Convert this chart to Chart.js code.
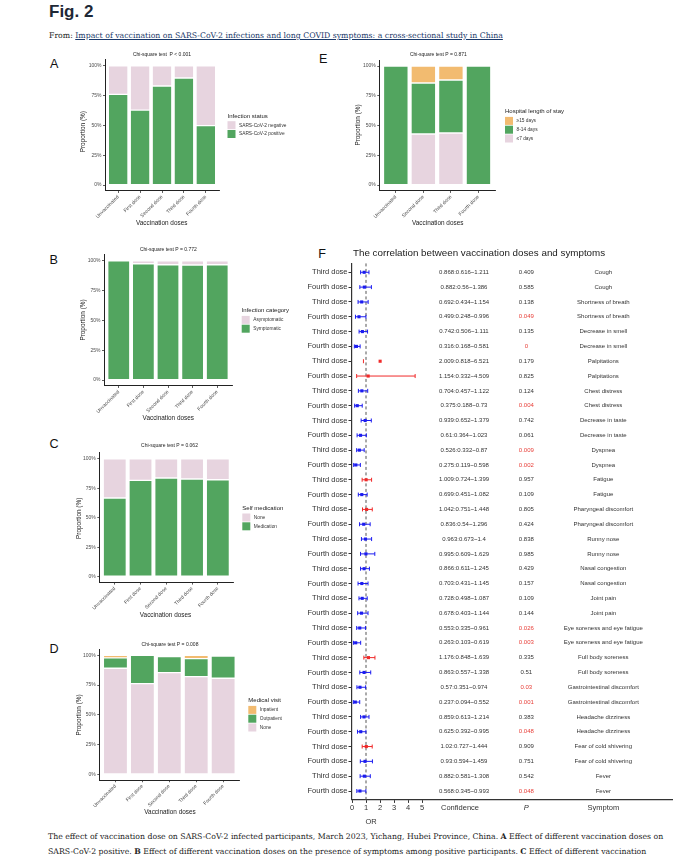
<!DOCTYPE html>
<html><head><meta charset="utf-8">
<script src="https://cdn.jsdelivr.net/npm/chart.js@4.4.1/dist/chart.umd.min.js"></script>
<style>
html,body{margin:0;padding:0;background:#fff;width:688px;height:860px;overflow:hidden;}
canvas{position:absolute;left:0;top:0;}
.t{position:absolute;white-space:nowrap;}
#fig{left:49px;top:2.8px;font:bold 17px/17px "Liberation Sans",Arial,sans-serif;color:#1e2836;}
.serif{font-family:"DejaVu Serif",serif;font-size:7.6px;line-height:10px;color:#222;}
#from{left:49px;top:31px;}
#from a{color:#1b3a6b;text-decoration:underline;}
.cap{left:48px;}
#cap1{top:831.5px;} #cap2{top:846.5px;}
.lab{font:12.6px/12.6px "Liberation Sans",Arial,sans-serif;color:#111;}
</style></head>
<body>
<div id="fig" class="t">Fig. 2</div>
<div id="from" class="t serif">From: <a>Impact of vaccination on SARS-CoV-2 infections and long COVID symptoms: a cross-sectional study in China</a></div>
<div class="t lab" style="left:50px;top:57.9px">A</div>
<div class="t lab" style="left:49.5px;top:253.6px">B</div>
<div class="t lab" style="left:49.5px;top:437.9px">C</div>
<div class="t lab" style="left:49.5px;top:642.6px">D</div>
<div class="t lab" style="left:319px;top:52.9px">E</div>
<div class="t lab" style="left:318.3px;top:247.6px">F</div>
<div id="cap1" class="t serif cap">The effect of vaccination dose on SARS-CoV-2 infected participants, March 2023, Yichang, Hubei Province, China. <b>A</b> Effect of different vaccination doses on</div>
<div id="cap2" class="t serif cap">SARS-CoV-2 positive. <b>B</b> Effect of different vaccination doses on the presence of symptoms among positive participants. <b>C</b> Effect of different vaccination</div>
<canvas id="cA" width="688" height="860"></canvas>
<canvas id="cB" width="688" height="860"></canvas>
<canvas id="cC" width="688" height="860"></canvas>
<canvas id="cD" width="688" height="860"></canvas>
<canvas id="cE" width="688" height="860"></canvas>
<canvas id="cF" width="688" height="860"></canvas>
<script>
// ---------------- DATA ----------------
const doses5 = ['Unvaccinated','First dose','Second dose','Third dose','Fourth dose'];
const dosesE = ['Unvaccinated','Second dose','Third dose','Fourth dose'];
const pctTicks = [0, 25, 50, 75, 100];

// A: infection status (%)
const aPositive = [76.0, 62.8, 83.0, 89.7, 49.8];
const aNegative = [24.0, 37.2, 17.0, 10.3, 50.2];
// B: infection category (%)
const bSymptomatic  = [100, 97.5, 96.6, 96.4, 96.6];
const bAsymptomatic = [0, 2.5, 3.4, 3.6, 3.4];
// C: self medication (%)
const cMedication = [66.7, 81.6, 83.6, 82.8, 82.2];
const cNone       = [33.3, 18.4, 16.4, 17.2, 17.8];
// D: medical visit (%)
const dNone       = [89.1, 76.2, 85.4, 82.1, 80.7];
const dOutpatient = [8.7, 23.8, 13.5, 15.1, 18.7];
const dInpatient  = [2.2, 0, 1.1, 2.8, 0.6];
// E: hospital length of stay (%)
const eUpTo7  = [0, 42.9, 43.7, 0];
const e8to14  = [100, 42.8, 44.5, 100];
const e15plus = [0, 14.3, 11.8, 0];

// F: forest plot
const fSymptoms = ['Cough','Shortness of breath','Decrease in smell','Palpitations','Chest distress','Decrease in taste','Dyspnea','Fatigue','Pharyngeal discomfort','Runny nose','Nasal congestion','Joint pain','Eye soreness and eye fatigue','Full body soreness','Gastrointestinal discomfort','Headache dizziness','Fear of cold shivering','Fever'];
const fDoses = ['Third dose','Fourth dose'];
const fOR   = [0.868,0.882,0.692,0.499,0.742,0.316,2.009,1.154,0.704,0.375,0.939,0.61,0.526,0.275,1.009,0.699,1.042,0.836,0.963,0.995,0.866,0.703,0.728,0.678,0.553,0.263,1.176,0.863,0.57,0.237,0.859,0.625,1.02,0.93,0.882,0.568];
const fLow  = [0.616,0.56,0.434,0.248,0.506,0.168,0.818,0.332,0.457,0.188,0.652,0.364,0.332,0.119,0.724,0.451,0.751,0.54,0.673,0.609,0.611,0.431,0.498,0.403,0.335,0.103,0.848,0.557,0.351,0.094,0.613,0.392,0.727,0.594,0.581,0.345];
const fHigh = [1.211,1.386,1.154,0.996,1.111,0.581,6.521,4.509,1.122,0.73,1.379,1.023,0.87,0.598,1.399,1.082,1.448,1.296,1.4,1.629,1.245,1.145,1.087,1.144,0.961,0.619,1.639,1.338,0.974,0.552,1.214,0.995,1.444,1.459,1.308,0.993];
const fP    = [0.409,0.585,0.138,0.049,0.135,0,0.179,0.825,0.124,0.004,0.742,0.061,0.009,0.002,0.957,0.109,0.805,0.424,0.838,0.985,0.429,0.157,0.109,0.144,0.026,0.003,0.335,0.51,0.03,0.001,0.383,0.048,0.909,0.751,0.542,0.048];
const fOrTicks = [0, 1, 2, 3, 4, 5];

// ---------------- STYLE ----------------
const W = 688, H = 860;
const FONT = "'Liberation Sans', Arial, Helvetica, sans-serif";
const GREEN = '#52a55f', PINK = '#e7d4df', ORANGE = '#f2bb70';
const RED = '#f02a2a', BLUE = '#1c1cf0', PRED = '#e8403a';
Chart.defaults.font.family = FONT;

// fit serif text widths
(function(){
  const c1 = document.getElementById('cap1');
  const w = c1.getBoundingClientRect().width;
  const fs = 7.6 * 616 / w;
  document.querySelectorAll('.serif').forEach(el => el.style.fontSize = fs + 'px');
})();

function txt(ctx, s, x, y, size, o = {}) {
  ctx.save();
  ctx.font = `${o.style || ''} ${o.weight || ''} ${size}px ${FONT}`;
  ctx.fillStyle = o.color || '#222';
  ctx.textAlign = o.align || 'center';
  ctx.textBaseline = 'middle';
  if (o.rot) { ctx.translate(x, y); ctx.rotate(o.rot); ctx.fillText(s, 0, 0); }
  else ctx.fillText(s, x, y);
  ctx.restore();
}

function decor(d, series) {
  return {
    id: 'decor',
    afterDraw(chart) {
      const ctx = chart.ctx;
      txt(ctx, d.title, d.titleX, d.titleY, 5, {color: '#222'});
      txt(ctx, 'Proportion (%)', d.yTX, d.yTY, 6.4, {rot: -Math.PI / 2, color: '#222'});
      txt(ctx, 'Vaccination doses', d.xTX, d.xTY, 6.4, {color: '#222'});
      txt(ctx, d.legTitle, d.legX, d.legY, 6, {align: 'left', color: '#222'});
      const items = series.slice().reverse();
      items.forEach((s, k) => {
        const cy = d.legY + 9.2 + k * 8.8;
        ctx.fillStyle = s.color;
        ctx.fillRect(d.legX, cy - 4, 8, 8);
        txt(ctx, s.label, d.legX + 11.5, cy, 4.8, {align: 'left', color: '#333'});
      });
    }
  };
}

function barPanel(id, cats, series, g, d) {
  const u = (g.y0 - g.y100) / 100;
  const top = g.y100 - 5 * u, bottom = g.y0 + 5 * u;
  const YW = 26, XH = 30;
  new Chart(document.getElementById(id), {
    type: 'bar',
    data: {
      datasets: series.map(s => ({
        label: s.label,
        data: s.values.map((v, i) => ({x: i, y: v})),
        backgroundColor: s.color, borderColor: '#fff', borderWidth: 0.7, borderSkipped: false,
        categoryPercentage: 1, barPercentage: 0.9
      }))
    },
    options: {
      responsive: false, animation: false, events: [],
      layout: {padding: {left: g.left - YW, top: top, right: W - g.right, bottom: H - bottom - XH}},
      plugins: {legend: {display: false}, tooltip: {enabled: false}, title: {display: false}},
      scales: {
        x: {
          type: 'linear', stacked: true, offset: false, min: -0.6, max: cats.length - 0.4,
          afterBuildTicks: s => { s.ticks = cats.map((c, i) => ({value: i})); },
          afterFit: s => { s.height = XH; },
          ticks: {callback: v => cats[v], autoSkip: false, minRotation: 45, maxRotation: 45,
                  font: {family: FONT, size: 5}, color: '#4d4d4d', padding: 1},
          grid: {display: true, drawOnChartArea: false, offset: false, tickLength: 2, color: '#333', lineWidth: 0.8},
          border: {display: true, color: '#222', width: 1}
        },
        y: {
          type: 'linear', stacked: true, min: -5, max: 105,
          afterBuildTicks: s => { s.ticks = pctTicks.map(v => ({value: v})); },
          afterFit: s => { s.width = YW; },
          ticks: {callback: v => v + '%', font: {family: FONT, size: 5}, color: '#4d4d4d', padding: 1.5, autoSkip: false},
          grid: {display: true, drawOnChartArea: false, tickLength: 2, color: '#333', lineWidth: 0.8},
          border: {display: true, color: '#222', width: 1}
        }
      }
    },
    plugins: [decor(d, series)]
  });
}

barPanel('cA', doses5,
  [{label: 'SARS-CoV-2 positive', values: aPositive, color: GREEN},
   {label: 'SARS-CoV-2 negative', values: aNegative, color: PINK}],
  {left: 105, right: 219, y0: 185, y100: 65.7},
  {title: 'Chi-square test  P < 0.001', titleX: 162, titleY: 55, yTX: 83.3, yTY: 131.7, xTX: 161.7, xTY: 223.3,
   legTitle: 'Infection status', legX: 227.5, legY: 116});

barPanel('cB', doses5,
  [{label: 'Symptomatic', values: bSymptomatic, color: GREEN},
   {label: 'Asymptomatic', values: bAsymptomatic, color: PINK}],
  {left: 104, right: 232, y0: 380, y100: 260.7},
  {title: 'Chi-square test P = 0.772', titleX: 168.3, titleY: 250, yTX: 83.3, yTY: 320, xTX: 168.3, xTY: 418.3,
   legTitle: 'Infection category', legX: 241.7, legY: 310.7});

barPanel('cC', doses5,
  [{label: 'Medication', values: cMedication, color: GREEN},
   {label: 'None', values: cNone, color: PINK}],
  {left: 99.3, right: 233.3, y0: 576.7, y100: 458.7},
  {title: 'Chi-square test P = 0.062', titleX: 169.5, titleY: 446, yTX: 79.3, yTY: 518.3, xTX: 165.5, xTY: 615,
   legTitle: 'Self medication', legX: 242.3, legY: 508.3});

barPanel('cD', doses5,
  [{label: 'None', values: dNone, color: PINK},
   {label: 'Outpatient', values: dOutpatient, color: GREEN},
   {label: 'Inpatient', values: dInpatient, color: ORANGE}],
  {left: 99.3, right: 239.3, y0: 774.3, y100: 655.3},
  {title: 'Chi-square test P = 0.008', titleX: 170, titleY: 644.3, yTX: 79.3, yTY: 715, xTX: 170, xTY: 812.7,
   legTitle: 'Medical visit', legX: 248.3, legY: 700.7});

barPanel('cE', dosesE,
  [{label: '≤7 days', values: eUpTo7, color: PINK},
   {label: '8-14 days', values: e8to14, color: GREEN},
   {label: '≥15 days', values: e15plus, color: ORANGE}],
  {left: 379.3, right: 495, y0: 185, y100: 66},
  {title: 'Chi-square test P = 0.871', titleX: 438.3, titleY: 55, yTX: 358.3, yTY: 125, xTX: 437.7, xTY: 223.3,
   legTitle: 'Hospital length of stay', legX: 505, legY: 111.7});

// ---------------- FOREST ----------------
const CI_MAX = 5;            // error bars beyond this OR are not drawn (clipped)
const colConf = 8.0, colP = 12.45, colSym = 17.95;   // x positions (OR units) of text columns
const fArea = {left: 352, right: 672, row1: 272.3, rowN: 791};
const fStep = (fArea.rowN - fArea.row1) / (fOR.length - 1);
const fTop = fArea.row1 - 0.6 * fStep, fBottom = fArea.rowN + 0.6 * fStep;
const fXMax = (fArea.right - fArea.left) / 14;

const forestPlugin = {
  id: 'forest',
  beforeDatasetsDraw(chart) {
    const {ctx, chartArea: a, scales: {x, y}} = chart;
    ctx.save();
    ctx.strokeStyle = '#555'; ctx.lineWidth = 1; ctx.setLineDash([3, 2.5]);
    const xr = x.getPixelForValue(1);
    ctx.beginPath(); ctx.moveTo(xr, a.top); ctx.lineTo(xr, a.bottom); ctx.stroke();
    ctx.restore();
    fOR.forEach((v, i) => {
      const py = y.getPixelForValue(i + 1);
      const x1 = x.getPixelForValue(fLow[i]);
      ctx.save();
      ctx.strokeStyle = v > 1 ? RED : BLUE; ctx.lineWidth = 1;
      ctx.beginPath();
      ctx.moveTo(x1, py - 2); ctx.lineTo(x1, py + 2);
      if (fHigh[i] <= CI_MAX) {
        const x2 = x.getPixelForValue(fHigh[i]);
        ctx.moveTo(x1, py); ctx.lineTo(x2, py);
        ctx.moveTo(x2, py - 2); ctx.lineTo(x2, py + 2);
      }
      ctx.stroke();
      ctx.restore();
    });
  },
  afterDraw(chart) {
    const {ctx, chartArea: a, scales: {x, y}} = chart;
    txt(ctx, 'The correlation between vaccination doses and symptoms', 353, 253.5, 9.8, {align: 'left', color: '#1a1a1a'});
    const cx = x.getPixelForValue(colConf), px = x.getPixelForValue(colP), sx = x.getPixelForValue(colSym);
    fOR.forEach((v, i) => {
      const py = y.getPixelForValue(i + 1);
      txt(ctx, `${v}:${fLow[i]}~${fHigh[i]}`, cx, py, 6, {color: '#333'});
      txt(ctx, String(fP[i]), px, py, 6, {color: fP[i] < 0.05 ? PRED : '#333'});
      txt(ctx, fSymptoms[Math.floor(i / 2)], sx, py, 6, {color: '#333'});
    });
    const hy = a.bottom + 8.3;
    txt(ctx, 'Confidence', cx - 4, hy, 7.5, {color: '#333'});
    txt(ctx, 'P', px, hy, 7.5, {style: 'italic', color: '#333'});
    txt(ctx, 'Symptom', sx, hy, 7.5, {color: '#333'});
    txt(ctx, 'OR', 371, 822, 7.5, {color: '#333'});
  }
};

new Chart(document.getElementById('cF'), {
  type: 'scatter',
  data: {
    datasets: [{
      data: fOR.map((v, i) => ({x: v, y: i + 1})),
      pointBackgroundColor: fOR.map(v => v > 1 ? RED : BLUE),
      pointBorderWidth: 0, pointRadius: 2.2, pointStyle: 'rect'
    }]
  },
  options: {
    responsive: false, animation: false, events: [], clip: false,
    layout: {padding: {left: fArea.left - 50, top: fTop, right: W - fArea.right, bottom: H - fBottom - 20}},
    plugins: {legend: {display: false}, tooltip: {enabled: false}},
    scales: {
      x: {
        type: 'linear', min: 0, max: fXMax,
        afterBuildTicks: s => { s.ticks = fOrTicks.map(v => ({value: v})); },
        afterFit: s => { s.height = 20; },
        ticks: {font: {family: FONT, size: 7.5}, color: '#333', padding: 1, autoSkip: false, maxRotation: 0},
        grid: {display: true, drawOnChartArea: false, tickLength: 3, color: '#333', lineWidth: 1},
        border: {display: true, color: '#333', width: 1.2}
      },
      y: {
        type: 'linear', reverse: true, min: 0.4, max: fOR.length + 0.6,
        afterBuildTicks: s => { s.ticks = fOR.map((v, i) => ({value: i + 1})); },
        afterFit: s => { s.width = 50; },
        ticks: {callback: v => fDoses[(v - 1) % 2], font: {family: FONT, size: 7.5}, color: '#333', padding: 1, autoSkip: false},
        grid: {display: true, drawOnChartArea: false, tickLength: 3.5, color: '#333', lineWidth: 1},
        border: {display: true, color: '#333', width: 1.2}
      }
    }
  },
  plugins: [forestPlugin]
});
</script>
</body></html>
